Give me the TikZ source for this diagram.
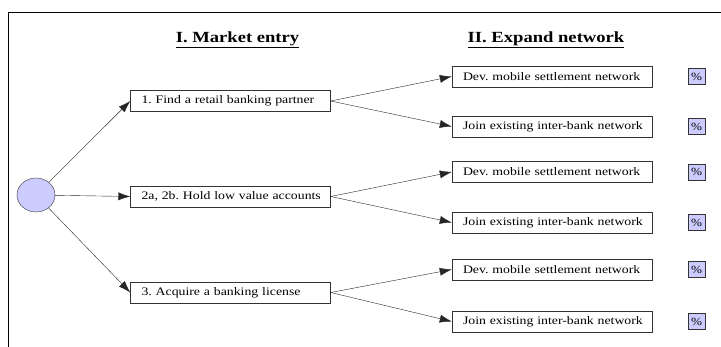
\documentclass[tikz,border=0pt]{standalone}
\usepackage{fontspec}
\setmainfont{Liberation Serif}
\newfontfamily\widefont{Liberation Serif}[FakeStretch=1.2]
\usetikzlibrary{arrows.meta, shapes.geometric}
\definecolor{lavender}{RGB}{204,204,255}

\begin{document}
\frenchspacing
\begin{tikzpicture}[x=1pt, y=-1pt,
		stepbox/.style={draw=black!80, fill=white, inner xsep=6pt, inner ysep=0pt, minimum height=21pt, text width=188pt, align=left, font=\widefont\fontsize{11.5}{13}\selectfont, execute at begin node=\hspace*{5pt}},
		pctbox/.style={draw=black!80, fill=lavender, minimum width=17pt, minimum height=16pt, inner sep=0pt, font=\widefont\fontsize{11}{12}\selectfont},
		arr/.style={-{Latex[length=12pt, width=8pt]}, black!85},
		heading/.style={font=\widefont\bfseries\fontsize{15.5}{17}\selectfont}]
	\useasboundingbox (0,0) rectangle (721,347);
	\draw (8.5,347) -- (8.5,12.5) -- (721,12.5);
	%\draw[help lines, step=50] (0,0) grid (721,347);
	\node[heading] (h1) at (237.5,40) {\underline{I. Market entry}};
	\node[heading] (h2) at (546,40) {\underline{II. Expand network}};
	\node[draw=black!80, fill=lavender, ellipse, minimum width=38pt, minimum height=34pt, inner sep=0pt] (root) at (36,195) {};
	\node[stepbox] (a) at (230.5,101) {1. Find a retail banking partner};
	\node[stepbox] (b) at (230.5,196.5) {2a, 2b. Hold low value accounts};
	\node[stepbox] (c) at (230.5,292.5) {3. Acquire a banking license};
	\draw[arr] (root) -- (a.west);
	\draw[arr] (root) -- (b.west);
	\draw[arr] (root) -- (c.west);
	\foreach \n/\y/\p/\t in {a1/76.5/a/Dev. mobile settlement network, a2/126.5/a/Join existing inter-bank network, b1/172/b/Dev. mobile settlement network, b2/222.5/b/Join existing inter-bank network, c1/269.5/c/Dev. mobile settlement network, c2/321.5/c/Join existing inter-bank network} {
		\node[stepbox] (\n) at (552,\y) {\t};
		\node[pctbox] (p\n) at (696.5,\y) {\%};
		\draw[arr] (\p.east) -- (\n.west);
	}
\end{tikzpicture}
\end{document}
